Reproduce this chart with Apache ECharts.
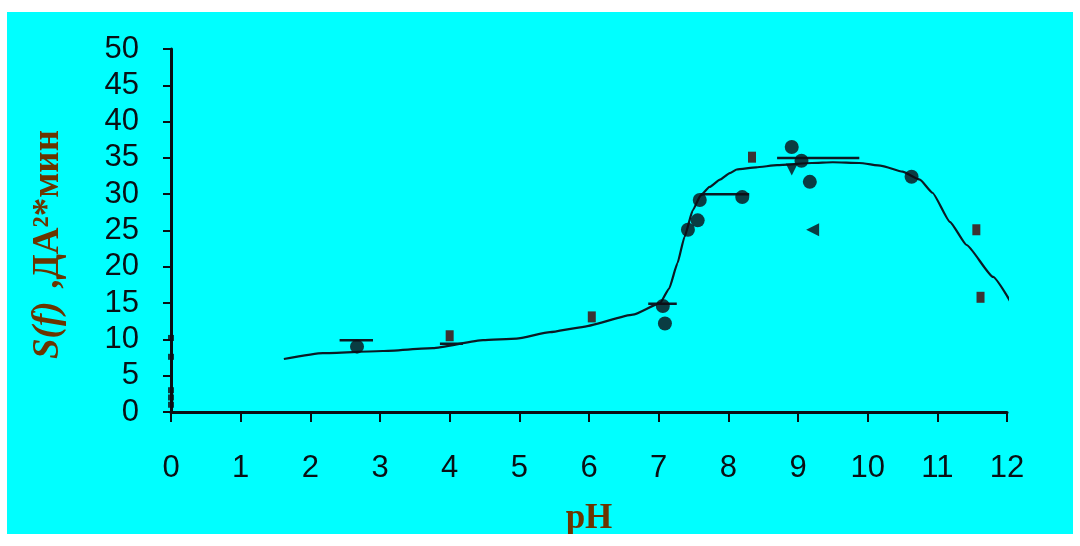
<!DOCTYPE html>
<html><head><meta charset="utf-8">
<script src="https://cdn.jsdelivr.net/npm/echarts@6/dist/echarts.min.js"></script>
<style>
html,body{margin:0;padding:0;background:#fff;}
#panel{position:absolute;left:7px;top:12px;width:1066px;height:522px;background:#00ffff;}
#chart{width:1066px;height:522px;}
</style></head>
<body>
<div id="panel"><div id="chart"></div></div>
<script>
const xTicks = [0,1,2,3,4,5,6,7,8,9,10,11,12];
const yTicks = [0,5,10,15,20,25,30,35,40,45,50];
const curveX = [1.62, 2.18, 3.04, 3.76, 4.48, 4.96, 5.44, 5.9, 6.63, 7.02, 7.15, 7.27, 7.37, 7.49, 7.6, 7.73, 7.88, 8.02, 8.12, 8.4, 8.7, 9.2, 9.5, 9.88, 10.2, 10.5, 10.75, 10.93, 11.18, 11.42, 11.8, 12.08];
const curveY = [7.3, 8.1, 8.4, 8.8, 9.9, 10.1, 11.0, 11.7, 13.4, 15.0, 17.0, 20.5, 24.1, 27.8, 29.8, 31.0, 32.0, 32.9, 33.4, 33.7, 34.0, 34.3, 34.4, 34.3, 33.9, 33.1, 32.0, 30.2, 26.2, 23.0, 18.6, 14.7];
const circleX = [2.67, 7.09, 7.06, 7.42, 7.56, 7.59, 8.2, 8.91, 9.05, 9.17, 10.63];
const circleY = [9.0, 12.2, 14.6, 25.1, 26.4, 29.2, 29.6, 36.5, 34.6, 31.7, 32.4];
const squareX = [4.0, 6.04, 8.34, 11.56, 11.62];
const squareY = [10.5, 13.1, 35.1, 25.1, 15.8];
const triDownX = [8.91];
const triDownY = [33.4];
const triLeftX = [9.21];
const triLeftY = [25.1];
const barX1 = [2.42, 3.86, 6.85, 7.6, 8.7];
const barX2 = [2.9, 4.19, 7.26, 8.3, 9.88];
const barY  = [9.9, 9.4, 14.9, 30.0, 35.0];
const axisMarkY = [1.0, 2.0, 3.0, 7.6, 10.2];

const zip = (a,b) => a.map((v,i)=>[v,b[i]]);
const barData = [];
barX1.forEach((x,i)=>{ barData.push([x,barY[i]]); barData.push([barX2[i],barY[i]]); barData.push('-'); });

const chart = echarts.init(document.getElementById('chart'));
chart.setOption({
  backgroundColor: 'transparent',
  animation: false,
  grid: {left:164, right:66, top:37, bottom:122, containLabel:false, outerBoundsMode:'none'},
  xAxis: {
    type:'value', min:0, max:12, interval:1,
    name:'pH', nameLocation:'middle', nameGap:89,
    nameTextStyle:{fontFamily:'Liberation Serif', fontWeight:'bold', fontSize:35, color:'#6b3500'},
    axisLine:{show:true, onZero:false, lineStyle:{color:'#0a0f14', width:3}},
    axisTick:{show:true, length:10, lineStyle:{color:'#0a0f14', width:2}},
    axisLabel:{margin:41, fontFamily:'Liberation Sans', fontSize:31, color:'#0a0f14',
      formatter: v => xTicks.includes(v) ? String(v) : ''},
    splitLine:{show:false}
  },
  yAxis: {
    type:'value', min:0, max:50, interval:5,
    name:'{i|S(f)} {n| ,ДА²*мин}', nameLocation:'middle', nameGap:104, nameRotate:90,
    nameTextStyle:{padding:[0,28,0,0], rich:{
      i:{fontFamily:'Liberation Serif', fontWeight:'bold', fontStyle:'italic', fontSize:37, color:'#6b3500'},
      n:{fontFamily:'Liberation Serif', fontWeight:'bold', fontSize:37, color:'#6b3500'}
    }},
    axisLine:{show:true, lineStyle:{color:'#0a0f14', width:3}},
    axisTick:{show:true, length:8, lineStyle:{color:'#0a0f14', width:2}},
    axisLabel:{margin:32, fontFamily:'Liberation Sans', fontSize:31, color:'#0a0f14',
      formatter: v => yTicks.includes(v) ? String(v) : ''},
    splitLine:{show:false}
  },
  series: [
    {type:'line', data: zip(curveX, curveY), showSymbol:false, smooth:0.15, smoothMonotone:'x',
     lineStyle:{color:'#0b1a24', width:2.2}, z:2},
    {type:'line', data: barData, showSymbol:false, connectNulls:false,
     lineStyle:{color:'#0b1a24', width:2.5}, z:2},
    {type:'scatter', data: zip(circleX, circleY), symbol:'circle', symbolSize:14,
     itemStyle:{color:'#0d0d14'}, z:3},
    {type:'scatter', data: zip(squareX, squareY), symbol:'rect', symbolSize:[8,11],
     itemStyle:{color:'#4a0000'}, z:3},
    {type:'scatter', data: zip(triDownX, triDownY), symbol:'triangle', symbolRotate:180, symbolSize:12,
     itemStyle:{color:'#0d0d14'}, z:3},
    {type:'scatter', data: zip(triLeftX, triLeftY), symbol:'triangle', symbolRotate:90, symbolSize:13,
     itemStyle:{color:'#0d0d14'}, z:3},
    {type:'scatter', data: axisMarkY.map(y=>[0,y]), symbol:'rect', symbolSize:[6,6],
     itemStyle:{color:'#0d0d14'}, z:3, clip:false}
  ]
});
</script>
</body></html>
